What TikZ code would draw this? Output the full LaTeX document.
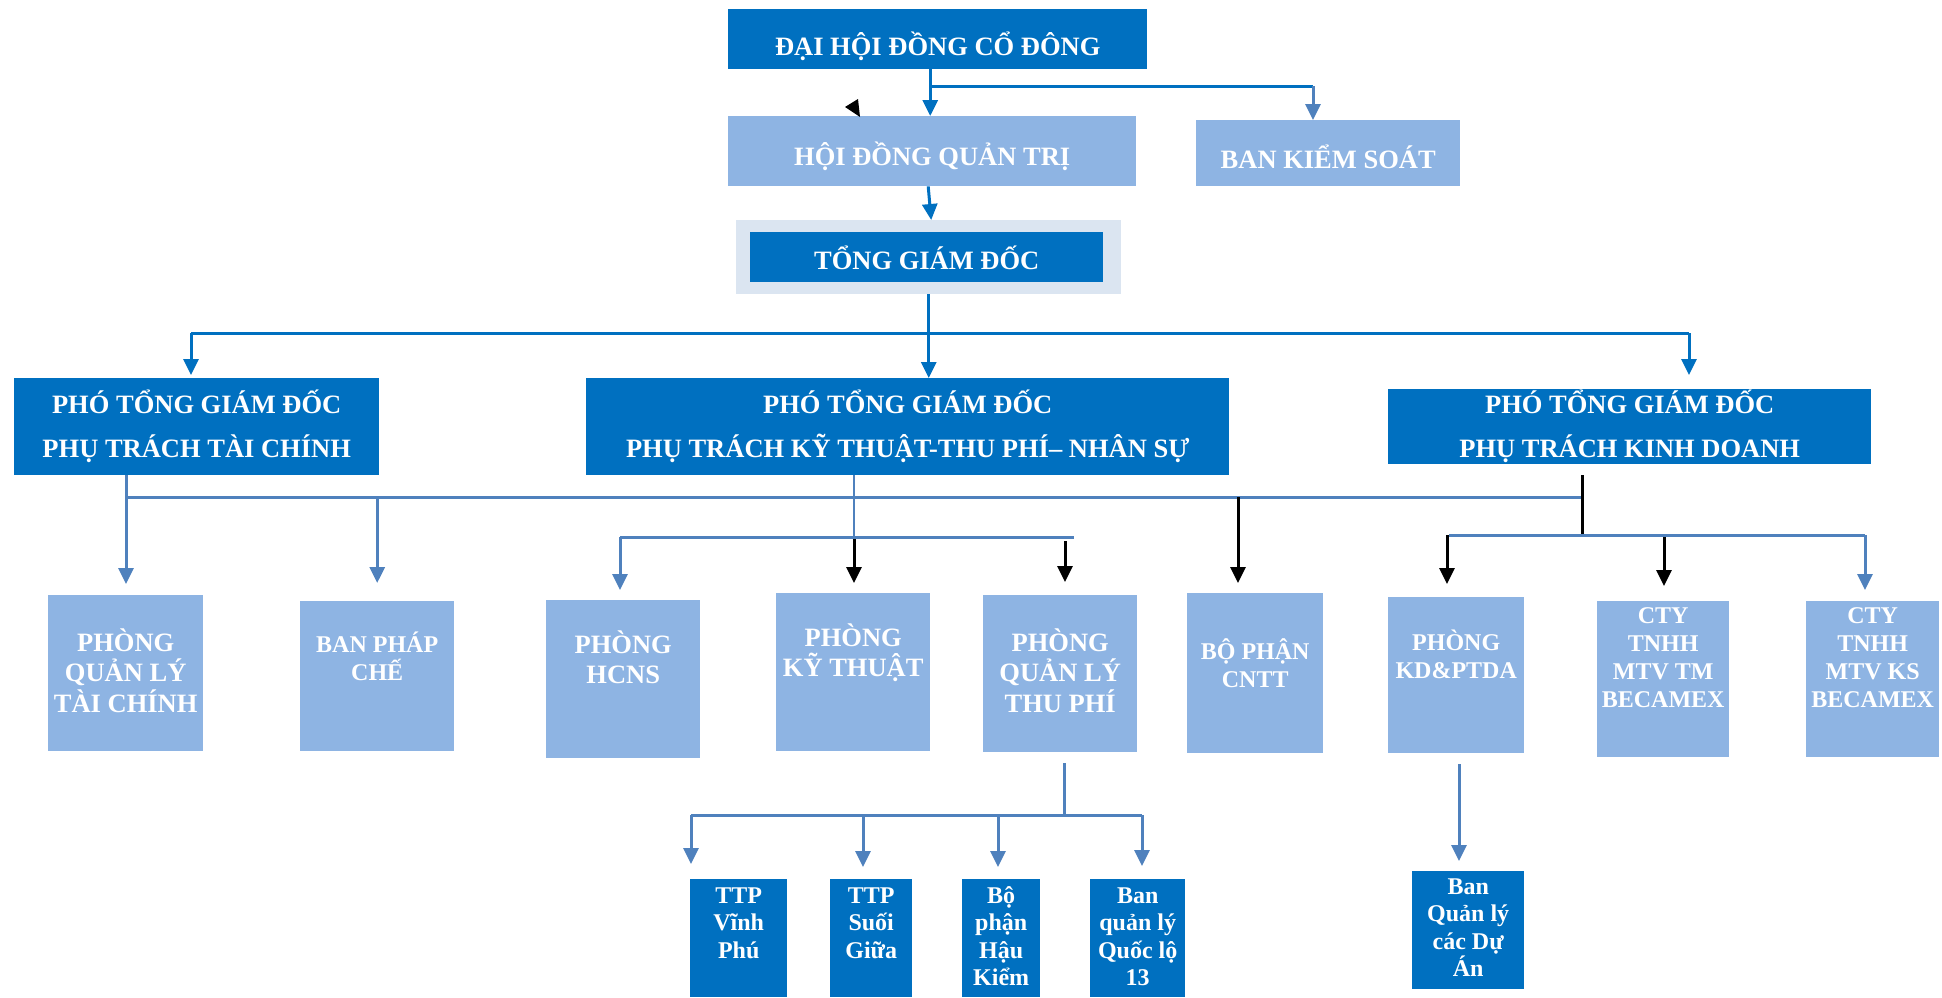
\documentclass[tikz,border=0pt]{standalone}
\usepackage{fontspec}
\setmainfont{Liberation Serif}
\usetikzlibrary{arrows.meta}
\definecolor{dblue}{HTML}{0070C0}
\definecolor{lblue}{HTML}{8EB4E3}
\definecolor{pale}{HTML}{DBE5F1}
\definecolor{lineb}{HTML}{4F81BD}
\tikzset{
  box/.style={anchor=north west, inner sep=0pt, align=flush center, text=white, draw=none},
  dbox/.style={box, fill=dblue},
  lbox/.style={box, fill=lblue},
  ftitle/.style={font=\bfseries\fontsize{26.5}{44}\selectfont},
  fbig/.style={font=\bfseries\fontsize{26.5}{30.5}\selectfont},
  fsmall/.style={font=\bfseries\fontsize{24}{28}\selectfont},
  fbot/.style={font=\bfseries\fontsize{24}{27.5}\selectfont},
  conn/.style={line width=3pt, draw=lineb},
  thinconn/.style={line width=2pt, draw=lineb},
  tconn/.style={line width=3pt, draw=dblue},
  kconn/.style={line width=3pt, draw=black},
  arrowed/.style={-{Triangle[width=15pt,length=16pt]}},
}
\begin{document}
\begin{tikzpicture}[x=1pt,y=-1pt]
\useasboundingbox (0,0) rectangle (1942,997);

% ---------- top ----------
\node[dbox, ftitle, text width=419pt, text height=46pt, text depth=14pt] (dhdcd) at (728,9) {ĐẠI HỘI ĐỒNG CỔ ĐÔNG};
\node[lbox, ftitle, text width=408pt, text height=49pt, text depth=21pt] (hdqt) at (728,116) {HỘI ĐỒNG QUẢN TRỊ};
\node[lbox, ftitle, text width=264pt, text height=48pt, text depth=18pt] (bks) at (1196,120) {BAN KIỂM SOÁT};
\node[box, fill=pale, minimum width=385pt, minimum height=74pt] (tgdo) at (736,220) {};
\node[dbox, ftitle, text width=353pt, text height=37pt, text depth=13pt] (tgd) at (750,232) {TỔNG GIÁM ĐỐC};

% ---------- deputies ----------
\node[dbox, ftitle, text width=365pt, text height=35pt, text depth=62pt] (ptgdtc) at (14,378) {PHÓ TỔNG GIÁM ĐỐC\\PHỤ TRÁCH TÀI CHÍNH};
\node[dbox, ftitle, text width=643pt, text height=35pt, text depth=62pt] (ptgdkt) at (586,378) {PHÓ TỔNG GIÁM ĐỐC\\PHỤ TRÁCH KỸ THUẬT-THU PHÍ– NHÂN SỰ};
\node[dbox, ftitle, text width=483pt, text height=24pt, text depth=51pt] (ptgdkd) at (1388,389) {PHÓ TỔNG GIÁM ĐỐC\\PHỤ TRÁCH KINH DOANH};

% ---------- departments ----------
\node[lbox, fbig, text width=155pt, text height=56pt, text depth=100pt] (pqltc) at (48,595) {PHÒNG\\QUẢN LÝ\\TÀI CHÍNH};
\node[lbox, fsmall, text width=154pt, text height=51pt, text depth=99pt] (bpc) at (300,601) {BAN PHÁP\\CHẾ};
\node[lbox, fbig, text width=154pt, text height=53pt, text depth=105pt] (hcns) at (546,600) {PHÒNG\\HCNS};
\node[lbox, fbig, text width=154pt, text height=53pt, text depth=105pt] (pkt) at (776,593) {PHÒNG\\KỸ THUẬT};
\node[lbox, fbig, text width=154pt, text height=56pt, text depth=101pt] (pqltp) at (983,595) {PHÒNG\\QUẢN LÝ\\THU PHÍ};
\node[lbox, fsmall, text width=136pt, text height=66pt, text depth=94pt] (cntt) at (1187,593) {BỘ PHẬN\\CNTT};
\node[lbox, fsmall, text width=136pt, text height=53pt, text depth=103pt] (kdptda) at (1388,597) {PHÒNG\\KD\&PTDA};
\node[lbox, fsmall, text width=132pt, text height=22pt, text depth=134pt] (ctytm) at (1597,601) {CTY\\TNHH\\MTV TM\\BECAMEX};
\node[lbox, fsmall, text width=133pt, text height=22pt, text depth=134pt] (ctyks) at (1806,601) {CTY\\TNHH\\MTV KS\\BECAMEX};

% ---------- units ----------
\node[dbox, fbot, text width=97pt, text height=24pt, text depth=94pt] (ttpvp) at (690,879) {TTP\\Vĩnh\\Phú};
\node[dbox, fbot, text width=82pt, text height=24pt, text depth=94pt] (ttpsg) at (830,879) {TTP\\Suối\\Giữa};
\node[dbox, fbot, text width=78pt, text height=24pt, text depth=94pt] (bphk) at (962,879) {Bộ\\phận\\Hậu\\Kiểm};
\node[dbox, fbot, text width=95pt, text height=24pt, text depth=94pt] (bql13) at (1090,879) {Ban\\quản lý\\Quốc lộ\\13};
\node[dbox, fbot, text width=112pt, text height=23pt, text depth=95pt] (bqlda) at (1412,871) {Ban\\Quản lý\\các Dự\\Án};

% ---------- connectors: top ----------
\coordinate (j1) at (930,86);
\coordinate (j2) at (1313,86);
\draw[tconn, arrowed] ([xshift=-7.5pt]dhdcd.south) -- ([xshift=-2pt]hdqt.north);
\draw[tconn] (j1) -- (j2);
\draw[conn, arrowed] (j2) -- (j2 |- bks.north);
\fill[black] (845,107) -- (858,99) -- (860,117) -- cycle;
\draw[tconn, arrowed] ([xshift=-4pt]hdqt.south) -- ([xshift=2.5pt]tgdo.north);

% ---------- connectors: to deputies ----------
\coordinate (h2l) at (191,333);
\coordinate (h2r) at (1689,333);
\draw[tconn, arrowed] (tgdo.south) -- (tgdo.south |- ptgdkt.north);
\draw[tconn] (h2l) -- (h2r);
\draw[tconn, arrowed, shorten >=3pt] (h2l) -- (h2l |- ptgdtc.north);
\draw[tconn, arrowed, shorten >=14pt] (h2r) -- (h2r |- ptgdkd.north);

% ---------- connectors: to departments ----------
\coordinate (h3l) at (126,497);
\coordinate (h3r) at (1582,497);
\coordinate (k) at (854,537);
\coordinate (h3a) at (620,537);
\coordinate (h3b) at (1074,537);
\coordinate (p1) at (1065,541);
\coordinate (p2) at (1238,497);
\coordinate (h3c) at (1449,535);
\coordinate (h3d) at (1865,535);
\coordinate (p3) at (1447,535);
\coordinate (p4) at (1664,537);

\draw[conn] (ptgdtc.south -| h3l) -- (h3l) -- (h3r);
\draw[conn, arrowed, shorten >=11pt] (h3l) -- (h3l |- pqltc.north);
\draw[conn, arrowed, shorten >=18pt] (bpc.north |- h3l) -- (bpc.north);
\draw[thinconn] (ptgdkt.south -| k) -- (k);
\draw[kconn, arrowed, shorten >=10pt] (k) -- (k |- pkt.north);
\draw[conn] (h3a) -- (h3b);
\draw[conn, arrowed, shorten >=10pt] (h3a) -- (h3a |- hcns.north);
\draw[kconn, arrowed, shorten >=13pt] (p1) -- (p1 |- pqltp.north);
\draw[kconn, arrowed, shorten >=10pt] (p2) -- (p2 |- cntt.north);
\draw[kconn, shorten <=11pt] (ptgdkd.south -| h3r) -- (h3r |- h3c);
\draw[conn] (h3c) -- (h3d);
\draw[kconn, arrowed, shorten >=13pt] (p3) -- (p3 |- kdptda.north);
\draw[kconn, arrowed, shorten >=15pt] (p4) -- (p4 |- ctytm.north);
\draw[conn, arrowed, shorten >=11pt] (h3d) -- (h3d |- ctyks.north);

% ---------- connectors: to units ----------
\coordinate (q) at (1064,815);
\coordinate (h4a) at (691,815);
\coordinate (h4b) at (1142,815);
\coordinate (p6) at (863,817);
\coordinate (p7) at (998,817);
\coordinate (p5) at (1459,800);
\draw[conn, shorten <=11pt] (pqltp.south -| q) -- (q);
\draw[conn] (h4a) -- (h4b);
\draw[conn, arrowed, shorten >=15pt] (h4a) -- (h4a |- ttpvp.north);
\draw[conn, arrowed, shorten >=12pt] (p6) -- (p6 |- ttpsg.north);
\draw[conn, arrowed, shorten >=12pt] (p7) -- (p7 |- bphk.north);
\draw[conn, arrowed, shorten >=13pt] (h4b) -- (h4b |- bql13.north);
\draw[conn, arrowed, shorten <=11pt, shorten >=10pt] (kdptda.south -| p5) -- (p5 |- bqlda.north);
\end{tikzpicture}
\end{document}
